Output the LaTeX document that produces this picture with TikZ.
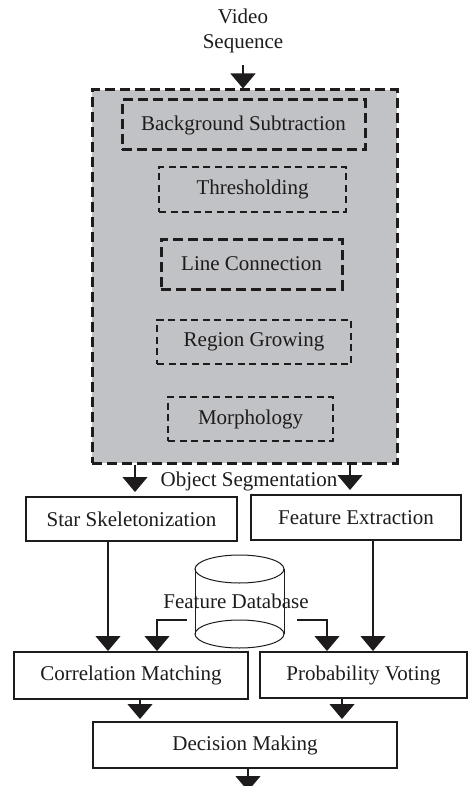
\documentclass[tikz,border=0pt]{standalone}
\usepackage{fontspec}
\setmainfont{Liberation Serif}
\usetikzlibrary{arrows.meta}
\definecolor{boxgray}{RGB}{193,194,197}
\definecolor{ink}{RGB}{30,27,28}
\begin{document}
\begin{tikzpicture}[x=1pt,y=-1pt,
  every node/.style={font=\fontsize{21}{25}\selectfont, text=ink, inner sep=0pt},
  sbox/.style={draw=ink, line width=2pt, rectangle},
  dthick/.style={draw=ink, line width=3pt, dash pattern=on 10pt off 5pt, rectangle},
  dthin/.style={draw=ink, line width=2pt, dash pattern=on 7pt off 4.5pt, rectangle},
  conn/.style={draw=ink, line width=1.1pt, -{Triangle[width=25pt,length=15pt]}},
  plain/.style={draw=ink, line width=1pt}]
\useasboundingbox (0,0) rectangle (468,786);
% video sequence
\node[align=center] (vs) at (243,31) {Video\\Sequence};
% gray segmentation box
\node[dthick, fill=boxgray, minimum width=305pt, minimum height=373pt] (seg) at (244.5,276.5) {};
\node[dthick, minimum width=243pt, minimum height=50pt] (bs) at (243.5,125) {Background Subtraction};
\node[dthin, minimum width=187pt, minimum height=45pt] (th) at (252.5,189.5) {Thresholding};
\node[dthick, minimum width=181pt, minimum height=50pt] (lc) at (251.5,264) {Line Connection};
\node[dthin, minimum width=194pt, minimum height=44pt] (rg) at (254,342) {Region Growing};
\node[dthin, minimum width=165pt, minimum height=44pt] (mo) at (250.5,419) {Morphology};
\node (segl) at (249,481) {Object Segmentation};
% solid boxes
\node[sbox, minimum width=211pt, minimum height=44pt] (ss) at (131.5,519) {Star Skeletonization};
\node[sbox, minimum width=210pt, minimum height=45pt] (fe) at (356,517.5) {Feature Extraction};
\node[sbox, minimum width=234pt, minimum height=47pt] (cm) at (131,675.5) {Correlation Matching};
\node[sbox, minimum width=207pt, minimum height=46pt] (pv) at (363.5,675) {Probability Voting};
\node[sbox, minimum width=304pt, minimum height=46pt] (dm) at (245,745) {Decision Making};
% database cylinder
\node[minimum width=110pt, minimum height=93pt] (db) at (242,601.5) {};
\draw[plain] (239.5,569) ellipse [x radius=44.5pt, y radius=14pt];
\draw[plain] (239.5,634) ellipse [x radius=44.5pt, y radius=14pt];
\draw[plain] (195,569) -- (195,634);
\draw[plain] (284,569) -- (284,634);
\node (dbl) at (236,601) {Feature Database};
\coordinate (out) at (248,791);
% connectors
\draw[conn, shorten <=12pt] (243,0 |- vs.south) -- (243,0 |- seg.north);
\draw[conn, shorten >=4pt] (135,0 |- seg.south) -- (135,0 |- ss.north);
\draw[conn, shorten >=4pt] (350,0 |- seg.south) -- (350,0 |- fe.north);
\draw[conn] (108,0 |- ss.south) -- (108,0 |- cm.north);
\draw[conn] (373,0 |- fe.south) -- (373,0 |- pv.north);
\draw[conn] (db.west |- 0,620) -| (157,0 |- cm.north);
\draw[conn] (db.east |- 0,620) -| (327,0 |- pv.north);
\draw[conn, shorten >=2pt] (140,0 |- cm.south) -- (140,0 |- dm.north);
\draw[conn, shorten >=2pt] (342,0 |- pv.south) -- (342,0 |- dm.north);
\draw[conn] (248,0 |- dm.south) -- (out);
\end{tikzpicture}
\end{document}
